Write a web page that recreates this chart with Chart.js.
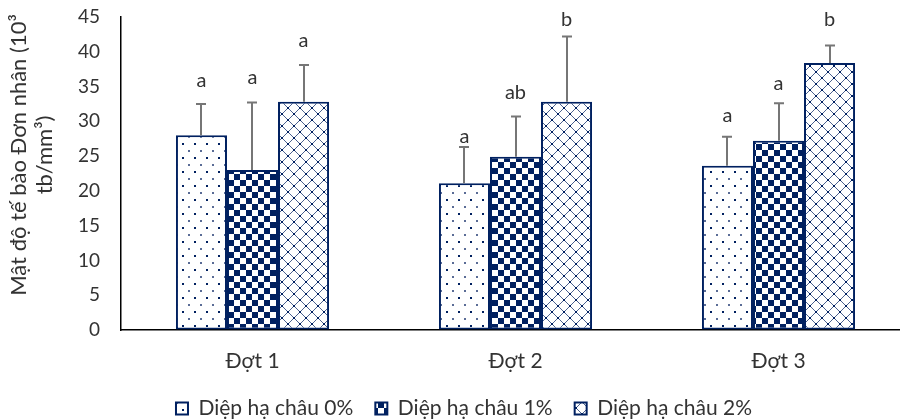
<!DOCTYPE html>
<html lang="vi">
<head>
<meta charset="utf-8">
<title>Mật độ tế bào Đơn nhân</title>
<script src="https://cdn.jsdelivr.net/npm/chart.js@4.4.1/dist/chart.umd.min.js"></script>
<style>
  html, body { margin: 0; padding: 0; overflow: hidden; background: #fff; }
  #wrap { position: relative; width: 910px; height: 419px; }
</style>
</head>
<body>
<div id="wrap"><canvas id="c" width="910" height="419"></canvas></div>
<script>
// ---- data ----
const categories = ['Đợt 1', 'Đợt 2', 'Đợt 3'];
const seriesNames = ['Diệp hạ châu 0%', 'Diệp hạ châu 1%', 'Diệp hạ châu 2%'];

const means0 = [28.0, 21.1, 23.6];
const means1 = [23.0, 24.9, 27.2];
const means2 = [32.8, 32.8, 38.4];

const sd0 = [4.5, 5.2, 4.2];
const sd1 = [9.7, 5.8, 5.4];
const sd2 = [5.3, 9.4, 2.5];

const letters0 = ['a', 'a', 'a'];
const letters1 = ['a', 'ab', 'a'];
const letters2 = ['a', 'b', 'b'];

// height (axis units) at which each significance letter is written
const letterAt0 = [35.9, 27.8, 30.8];
const letterAt1 = [36.3, 34.1, 35.4];
const letterAt2 = [41.6, 44.6, 44.7];

const yMin = 0, yMax = 45, yStep = 5;
const yTitle = ['Mật độ tế bào Đơn nhân (10³', 'tb/mm³)'];

// ---- styling ----
const NAVY = '#002060';
const TEXT = '#333333';
const FONT = 'Lato, "Open Sans", sans-serif';
const canvas = document.getElementById('c');
const mainCtx = canvas.getContext('2d');

function tile(w, h, paint) {
  const t = document.createElement('canvas');
  t.width = w; t.height = h;
  const g = t.getContext('2d');
  g.fillStyle = '#ffffff';
  g.fillRect(0, 0, w, h);
  paint(g);
  return mainCtx.createPattern(t, 'repeat');
}

// sparse dots
const dotFill = tile(12, 14, g => {
  g.fillStyle = NAVY;
  g.fillRect(2, 3, 2, 2);
  g.fillStyle = '#5a6c96';
  g.fillRect(8, 10, 2, 2);
});

// checkerboard
const checkFill = tile(12, 12, g => {
  g.fillStyle = NAVY;
  g.fillRect(0, 0, 6, 6);
  g.fillRect(6, 6, 6, 6);
});

// diagonal trellis
const trellisFill = tile(12, 12, g => {
  g.strokeStyle = 'rgba(0,32,96,0.7)';
  g.lineWidth = 1;
  g.beginPath();
  g.moveTo(0, 0); g.lineTo(12, 12);
  g.moveTo(12, 0); g.lineTo(0, 12);
  g.stroke();
  g.fillStyle = NAVY;
  g.fillRect(5, 5, 2, 2);
  g.fillRect(0, 0, 1, 1); g.fillRect(11, 0, 1, 1);
  g.fillRect(0, 11, 1, 1); g.fillRect(11, 11, 1, 1);
});

// ---- plugins ----
const errorBars = {
  id: 'errorBars',
  afterDatasetsDraw(chart) {
    const { ctx, scales: { y } } = chart;
    ctx.save();
    ctx.strokeStyle = '#767676';
    ctx.lineWidth = 2;
    chart.data.datasets.forEach((ds, i) => {
      chart.getDatasetMeta(i).data.forEach((bar, j) => {
        const top = y.getPixelForValue(ds.data[j] + ds.sd[j]);
        const x = Math.round(bar.x);
        ctx.beginPath();
        ctx.moveTo(x, bar.y);
        ctx.lineTo(x, top);
        ctx.moveTo(x - 5, top);
        ctx.lineTo(x + 5, top);
        ctx.stroke();
      });
    });
    ctx.restore();
  }
};

const sigLetters = {
  id: 'sigLetters',
  afterDatasetsDraw(chart) {
    const { ctx, scales: { y } } = chart;
    ctx.save();
    ctx.fillStyle = TEXT;
    ctx.font = '20px ' + FONT;
    ctx.textAlign = 'center';
    ctx.textBaseline = 'middle';
    chart.data.datasets.forEach((ds, i) => {
      chart.getDatasetMeta(i).data.forEach((bar, j) => {
        ctx.fillText(ds.letters[j], bar.x, y.getPixelForValue(ds.letterAt[j]));
      });
    });
    ctx.restore();
  }
};

const axisTitle = {
  id: 'axisTitle',
  afterDraw(chart) {
    const { ctx } = chart;
    ctx.save();
    ctx.fillStyle = TEXT;
    ctx.font = '22px ' + FONT;
    ctx.textAlign = 'center';
    ctx.textBaseline = 'middle';
    ctx.translate(19, 155);
    ctx.rotate(-Math.PI / 2);
    yTitle.forEach((line, k) => ctx.fillText(line, 0, k * 26));
    ctx.restore();
  }
};

// ---- chart ----
new Chart(canvas, {
  type: 'bar',
  data: {
    labels: categories,
    datasets: [
      { label: seriesNames[0], data: means0, sd: sd0, letters: letters0, letterAt: letterAt0, backgroundColor: dotFill },
      { label: seriesNames[1], data: means1, sd: sd1, letters: letters1, letterAt: letterAt1, backgroundColor: checkFill },
      { label: seriesNames[2], data: means2, sd: sd2, letters: letters2, letterAt: letterAt2, backgroundColor: trellisFill }
    ].map(d => Object.assign(d, { borderColor: NAVY, borderWidth: 2, borderSkipped: false }))
  },
  options: {
    responsive: false,
    animation: false,
    devicePixelRatio: 1,
    layout: { padding: { top: 17, left: 18, right: 0, bottom: 0 } },
    datasets: { bar: { barPercentage: 1, categoryPercentage: 0.582 } },
    plugins: {
      tooltip: { enabled: false },
      legend: {
        position: 'bottom',
        maxHeight: 43,
        labels: {
          boxWidth: 12,
          boxHeight: 12,
          padding: 22,
          color: TEXT,
          font: { family: FONT, size: 21 }
        }
      }
    },
    scales: {
      x: {
        grid: { display: false, drawTicks: false },
        border: { display: true, color: '#000', width: 1.5 },
        ticks: { color: TEXT, padding: 19, font: { family: FONT, size: 21 } },
        afterFit(s) { s.height = 46; }
      },
      y: {
        min: yMin,
        max: yMax,
        grid: { display: true, drawOnChartArea: false, drawTicks: true, tickLength: 16, tickColor: 'rgba(0,0,0,0)' },
        border: { display: true, color: '#000', width: 1.5 },
        ticks: { stepSize: yStep, color: TEXT, padding: 5, font: { family: FONT, size: 19 } },
        afterFit(s) { s.width = 103; }
      }
    }
  },
  plugins: [errorBars, sigLetters, axisTitle]
});
</script>
</body>
</html>
